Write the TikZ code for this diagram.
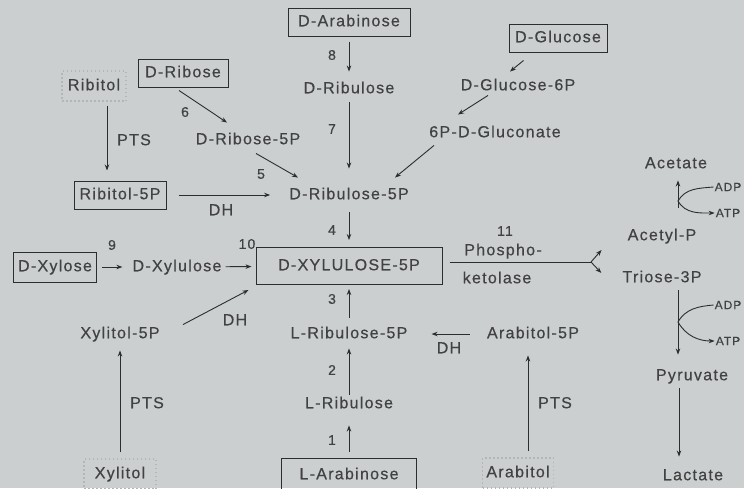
\documentclass[tikz,border=0pt]{standalone}
\usepackage{fontspec}
\setmainfont{Liberation Sans}[LetterSpace=8,FakeBold=0.4]
\usepackage{tikz}
\usetikzlibrary{arrows.meta}

\definecolor{paper}{RGB}{203,207,207}
\definecolor{ink}{RGB}{45,45,45}
\tikzstyle{met}=[text=ink!90, inner sep=2pt, text height=11.5pt, text depth=3pt, font=\fontsize{16}{18}\selectfont]
\tikzstyle{sugar}=[met, draw=ink, line width=1pt, minimum height=28pt]
\tikzstyle{polyol}=[met, draw=ink!35, line width=1.5pt, dash pattern=on 1.5pt off 2.5pt, minimum height=30pt]
\tikzstyle{num}=[text=ink!90, inner sep=1pt, font=\fontsize{14}{16}\selectfont]
\tikzstyle{cofactor}=[text=ink!90, inner sep=1pt, font=\fontsize{12}{14}\selectfont]
\tikzstyle{conv}=[-{Stealth[length=6pt,width=4.5pt]}, ink, line width=0.9pt]

\begin{document}
\begin{tikzpicture}[x=1pt,y=-1pt]
    \fill[paper] (0,0) rectangle (744,488);
    \useasboundingbox (0,0) rectangle (744,488);

    % SUGARS AND INTERMEDIATES
    \node[sugar,minimum width=122pt] (dara) at (349,22) {D-Arabinose};
    \node[met] (drul) at (349,89) {D-Ribulose};
    \node[sugar,minimum width=98pt] (dglc) at (558,38) {D-Glucose};
    \node[met] (dglcsix) at (518,86) {D-Glucose-6P};
    \node[met] (glcn) at (495,133) {6P-D-Gluconate};
    \node[polyol,minimum width=64pt] (ribitol) at (94,86) {Ribitol};
    \node[sugar,minimum width=90pt] (drib) at (183,73) {D-Ribose};
    \node[met] (dribfive) at (248,140) {D-Ribose-5P};
    \node[sugar,minimum width=92pt] (ribfive) at (120,195) {Ribitol-5P};
    \node[met] (drulfive) at (349,195) {D-Ribulose-5P};
    \node[sugar,minimum width=83pt,minimum height=30pt] (dxyl) at (55,267) {D-Xylose};
    \node[met] (dxylu) at (177,267) {D-Xylulose};
    \node[sugar,minimum width=186pt,minimum height=37pt] (xylufive) at (349,266) {D-XYLULOSE-5P};
    \node[met] (xylfive) at (120,334) {Xylitol-5P};
    \node[polyol,minimum width=72pt] (xylitol) at (120,474) {Xylitol};
    \node[met] (lrulfive) at (349,334) {L-Ribulose-5P};
    \node[met] (arbfive) at (533,334) {Arabitol-5P};
    \node[met] (lrul) at (349,404) {L-Ribulose};
    \node[sugar,minimum width=135pt,minimum height=33pt] (lara) at (349,475) {L-Arabinose};
    \node[polyol,minimum width=71pt] (arabitol) at (518,473) {Arabitol};

    % END PRODUCTS
    \node[met] (acetate) at (676,164) {Acetate};
    \node[met] (acetylp) at (662,236) {Acetyl-P};
    \node[met] (triose) at (662,278) {Triose-3P};
    \node[met] (pyruvate) at (692,376) {Pyruvate};
    \node[met] (lactate) at (693,476) {Lactate};
    \node[cofactor] (adpa) at (728,187) {ADP};
    \node[cofactor] (atpa) at (728,213) {ATP};
    \node[cofactor] (adpb) at (728,305) {ADP};
    \node[cofactor] (atpb) at (728,341) {ATP};

    % ENZYME NUMBERS
    \node[num] (eight) at (332,55) {8};
    \node[num] (seven) at (332,129) {7};
    \node[num] (six) at (185,112) {6};
    \node[num] (five) at (261,174) {5};
    \node[num] (four) at (332,230) {4};
    \node[num] (nine) at (112,245) {9};
    \node[num] (ten) at (247,244) {10};
    \node[num] (three) at (332,299) {3};
    \node[num] (two) at (332,370) {2};
    \node[num] (one) at (332,440) {1};
    \node[num] (eleven) at (505,231) {11};
    \node[met] (ptsa) at (134,141) {PTS};
    \node[met] (ptsb) at (147,404) {PTS};
    \node[met] (ptsc) at (555,404) {PTS};
    \node[met] (dha) at (221,211) {DH};
    \node[met] (dhb) at (235,321) {DH};
    \node[met] (dhc) at (449,349) {DH};
    \node[met] (phos) at (503,251) {Phospho-};
    \node[met] (keto) at (497,279) {ketolase};

    % UPPER BRANCH
    \draw[conv, shorten <=5pt, shorten >=8pt] (dara) -- (drul);
    \draw[conv, shorten <=4pt, shorten >=17pt] (drul) -- (drulfive);
    \draw[conv] ([xshift=15pt,yshift=-8pt]dglc.south west) -- ([xshift=-8pt,yshift=5pt]dglcsix.north);
    \draw[conv] ([xshift=-30pt]dglcsix.south) -- ([xshift=-37pt,yshift=9pt]glcn.north);
    \draw[conv] ([xshift=-61pt,yshift=-3pt]glcn.south) -- ([xshift=46pt,yshift=8pt]drulfive.north);
    \draw[conv] ([xshift=-4pt,yshift=-3pt]drib.south) -- ([xshift=-21pt,yshift=8pt]dribfive.north);
    \draw[conv] ([xshift=8pt,yshift=-4pt]dribfive.south) -- ([xshift=-51pt,yshift=8pt]drulfive.north);
    \draw[conv] ([xshift=13pt,yshift=-4pt]ribitol.south) -- ([xshift=-13pt,yshift=10pt]ribfive.north);
    \draw[conv, shorten <=12pt, shorten >=17pt] (ribfive) -- (drulfive);
    \draw[conv, shorten <=8pt, shorten >=7pt] (drulfive) -- (xylufive);

    % LEFT BRANCH
    \draw[conv, shorten <=5pt, shorten >=8pt] (dxyl) -- (dxylu);
    \draw[conv, shorten <=2pt, shorten >=4pt] (dxylu) -- (xylufive);
    \draw[conv] ([xshift=63pt]xylfive.north) -- ([xshift=-7pt,yshift=-5pt]xylufive.south west);
    \draw[conv, shorten <=6pt, shorten >=7pt] (xylitol) -- (xylfive);

    % LOWER BRANCH
    \draw[conv, shorten <=7pt, shorten >=4pt] (lrulfive) -- (xylufive);
    \draw[conv, shorten >=5pt] (lrul) -- (lrulfive);
    \draw[conv, shorten <=6pt, shorten >=12pt] (lara) -- (lrul);
    \draw[conv, shorten <=15pt, shorten >=22pt] (arbfive) -- (lrulfive);
    \draw[conv] ([xshift=10pt,yshift=6pt]arabitol.north) -- ([xshift=-5pt,yshift=-12pt]arbfive.south);

    % PHOSPHOKETOLASE
    \coordinate (fork) at (591,262);
    \draw[ink, line width=0.9pt] ([xshift=7pt,yshift=4pt]xylufive.east) -- (fork);
    \draw[conv] (fork) -- ([xshift=-24pt,yshift=-14pt]acetylp.west);
    \draw[conv] (fork) -- ([xshift=-19pt,yshift=5pt]triose.west);

    % ACETATE / LACTATE
    \coordinate (joina) at (678,201);
    \coordinate (joinb) at (678,322);
    \draw[conv] ([xshift=16pt,yshift=19pt]acetylp.north) -- ([xshift=2pt,yshift=-7pt]acetate.south);
    \draw[conv] (adpa.west) to[out=185,in=60] (joina) to[out=-60,in=180] (atpa.west);
    \draw[conv] ([xshift=16pt,yshift=-3pt]triose.south) -- ([xshift=-14pt,yshift=12pt]pyruvate.north);
    \draw[conv] (adpb.west) to[out=185,in=60] (joinb) to[out=-60,in=180] (atpb.west);
    \draw[conv] ([xshift=-13pt,yshift=-3pt]pyruvate.south) -- ([xshift=-14pt,yshift=10pt]lactate.north);
\end{tikzpicture}
\end{document}
